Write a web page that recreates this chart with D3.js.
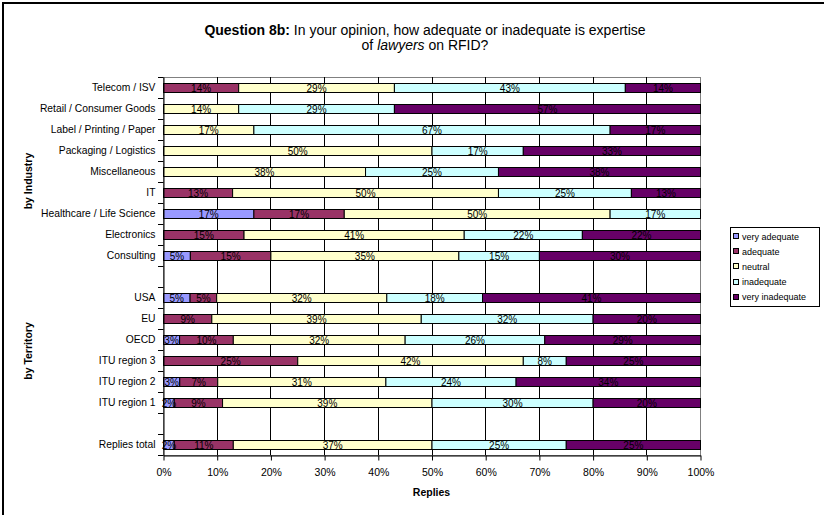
<!DOCTYPE html>
<html>
<head>
<meta charset="utf-8">
<script src="https://cdn.jsdelivr.net/npm/d3@7"></script>
<style>
  html, body { margin: 0; padding: 0; background: #fff; }
  svg { display: block; font-family: "Liberation Sans", Arial, sans-serif; }
</style>
</head>
<body>
<svg id="chart" width="824" height="515"></svg>
<script>
// ---- data ----
const categories = ["Telecom / ISV", "Retail / Consumer Goods", "Label / Printing / Paper",
  "Packaging / Logistics", "Miscellaneous", "IT", "Healthcare / Life Science", "Electronics",
  "Consulting", "USA", "EU", "OECD", "ITU region 3", "ITU region 2", "ITU region 1", "Replies total"];
const veryAdequate   = [0, 0, 0, 0, 0, 0, 17, 0, 5, 5, 0, 3, 0, 3, 2, 2];
const adequate       = [14, 0, 0, 0, 0, 13, 17, 15, 15, 5, 9, 10, 25, 7, 9, 11];
const neutral        = [29, 14, 17, 50, 38, 50, 50, 41, 35, 32, 39, 32, 42, 31, 39, 37];
const inadequate     = [43, 29, 67, 17, 25, 25, 17, 22, 15, 18, 32, 26, 8, 24, 30, 25];
const veryInadequate = [14, 57, 17, 33, 38, 13, 0, 22, 30, 41, 20, 29, 25, 34, 20, 25];
const seriesNames = ["very adequate", "adequate", "neutral", "inadequate", "very inadequate"];
const seriesColors = ["#9999FF", "#993366", "#FFFFCC", "#CCFFFF", "#660066"];
const xTickValues = [0, 0.1, 0.2, 0.3, 0.4, 0.5, 0.6, 0.7, 0.8, 0.9, 1.0];
const gapsBefore = ["USA", "Replies total"];
const groupLabels = ["by Industry", "by Territory"];

// ---- build rows ----
const seriesArrays = [veryAdequate, adequate, neutral, inadequate, veryInadequate];
const rows = categories.map((c, i) => {
  const r = { cat: c };
  seriesNames.forEach((s, k) => r[s] = seriesArrays[k][i]);
  return r;
});
const slots = [];
categories.forEach(c => { if (gapsBefore.includes(c)) slots.push(null); slots.push(c); });
const slotKeys = slots.map((s, i) => i);

// ---- layout ----
const svg = d3.select("#chart");
const X0 = 163, X1 = 700, Y0 = 77, Y1 = 455;
const x = d3.scaleLinear().domain([0, 1]).range([X0, X1]);
const y = d3.scaleBand().domain(slotKeys).range([Y0, Y1]).padding(0);
const slotOf = c => slots.indexOf(c);
const barH = y.bandwidth() * 0.43;

// outer frame
svg.append("rect").attr("x", 3).attr("y", 3).attr("width", 900).attr("height", 600)
  .attr("fill", "none").attr("stroke", "#000").attr("stroke-width", 2);

// plot area border
svg.append("rect").attr("x", X0 + 0.5).attr("y", Y0 + 0.5).attr("width", X1 - X0).attr("height", Y1 - Y0)
  .attr("fill", "none").attr("stroke", "#808080").attr("stroke-width", 1);

// vertical gridlines
svg.append("g").selectAll("line").data(xTickValues.slice(1, -1)).join("line")
  .attr("x1", d => Math.round(x(d)) + 0.5).attr("x2", d => Math.round(x(d)) + 0.5)
  .attr("y1", Y0).attr("y2", Y1)
  .attr("stroke", "#000").attr("stroke-width", 1);

// stacked bars
const stack = d3.stack().keys(seriesNames).offset(d3.stackOffsetExpand);
const stacked = stack(rows);
const layers = svg.append("g").selectAll("g").data(stacked).join("g")
  .attr("fill", (d, i) => seriesColors[i]);
layers.selectAll("rect").data(d => d.filter(p => p[1] - p[0] > 0)).join("rect")
  .attr("x", p => x(p[0]) + 0.5)
  .attr("width", p => x(p[1]) - x(p[0]))
  .attr("y", p => Math.round(y(slotOf(p.data.cat)) + (y.bandwidth() - barH) / 2) + 0.5)
  .attr("height", Math.round(barH))
  .attr("stroke", "#000").attr("stroke-width", 1);

// data labels
const labelG = svg.append("g").attr("font-size", "10px").attr("fill", "#000").attr("text-anchor", "middle");
stacked.forEach((layer) => {
  layer.forEach(p => {
    const v = p.data[layer.key];
    if (v <= 0) return;
    labelG.append("text")
      .attr("x", (x(p[0]) + x(p[1])) / 2 + 0.5)
      .attr("y", y(slotOf(p.data.cat)) + y.bandwidth() / 2 + 4)
      .text(v + "%");
  });
});

// y axis
const yAxis = d3.axisLeft(y).tickSize(0).tickPadding(8).tickFormat(i => slots[i] || "");
const yg = svg.append("g").attr("transform", `translate(${X0 + 0.5},0)`).call(yAxis);
yg.select(".domain").attr("stroke", "#000");
yg.selectAll("text").attr("font-size", "10.3px").attr("fill", "#000")
  .attr("font-family", "Liberation Sans, Arial, sans-serif");
// category boundary ticks
svg.append("g").selectAll("line").data(d3.range(slots.length + 1)).join("line")
  .attr("x1", X0 - 5).attr("x2", X0 + 0.5)
  .attr("y1", i => Math.round(Y0 + i * y.step()) + 0.5)
  .attr("y2", i => Math.round(Y0 + i * y.step()) + 0.5)
  .attr("stroke", "#000");

// x axis
const xAxis = d3.axisBottom(x).tickValues(xTickValues).tickFormat(d3.format(".0%"))
  .tickSize(5).tickPadding(8).tickSizeOuter(0);
const xg = svg.append("g").attr("transform", `translate(0.5,${Y1 + 0.5})`).call(xAxis);
xg.select(".domain").attr("stroke", "#000");
xg.selectAll(".tick line").attr("stroke", "#000");
xg.selectAll("text").attr("font-size", "10.5px").attr("fill", "#000")
  .attr("font-family", "Liberation Sans, Arial, sans-serif");

// x axis title
svg.append("text").attr("x", (X0 + X1) / 2).attr("y", 496).attr("text-anchor", "middle")
  .attr("font-size", "10.5px").attr("font-weight", "bold").text("Replies");

// group labels
const territoryRows = d3.range(slotOf("USA"), slotOf("ITU region 1") + 1);
const groupY = [181, y(territoryRows[0]) + (territoryRows.length * y.step()) / 2 + 1];
groupLabels.forEach((g, i) => {
  svg.append("text").attr("transform", `translate(32,${groupY[i]}) rotate(-90)`)
    .attr("text-anchor", "middle").attr("font-size", "10.5px").attr("font-weight", "bold").text(g);
});

// title (two separate lines, each with direct tspans)
const t1 = svg.append("text").attr("x", 425).attr("y", 35).attr("text-anchor", "middle").attr("font-size", "14px");
t1.append("tspan").attr("font-weight", "bold").text("Question 8b:");
t1.append("tspan").text(" In your opinion, how adequate or inadequate is expertise");
const t2 = svg.append("text").attr("x", 425).attr("y", 50).attr("text-anchor", "middle").attr("font-size", "14px");
t2.append("tspan").text("of ");
t2.append("tspan").attr("font-style", "italic").text("lawyers");
t2.append("tspan").text(" on RFID?");

// legend
const lg = svg.append("g");
const LX = 730, LY = 227;
lg.append("rect").attr("x", LX + 0.5).attr("y", LY + 0.5).attr("width", 89).attr("height", 79)
  .attr("fill", "#fff").attr("stroke", "#000");
seriesNames.forEach((s, i) => {
  const cy = LY + 9 + i * 15.2;
  lg.append("rect").attr("x", LX + 3.5).attr("y", Math.round(cy - 3) + 0.5).attr("width", 5).attr("height", 5)
    .attr("fill", seriesColors[i]).attr("stroke", "#000");
  lg.append("text").attr("x", LX + 12).attr("y", cy + 3.5).attr("font-size", "9px").text(s);
});
</script>
</body>
</html>
